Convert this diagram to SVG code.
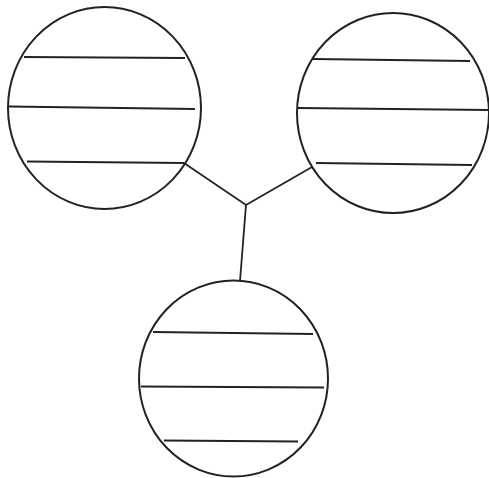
<svg xmlns="http://www.w3.org/2000/svg" width="489" height="478" viewBox="0 0 489 478">
<style>
.c{fill:none;stroke:#222;stroke-width:2}
.l{stroke:#222;stroke-width:1.8;fill:none}
</style>
<rect width="489" height="478" fill="#fff"/>
<g id="connectors">
<polyline class="l" points="184,163 246,205 312,167"/>
<line class="l" x1="246" y1="205" x2="240" y2="281"/>
</g>
<g id="node-left">
<ellipse class="c" cx="104.5" cy="108" rx="96.5" ry="101"/>
<line class="l" x1="24" y1="57" x2="185" y2="58"/>
<line class="l" x1="9" y1="106.5" x2="195" y2="109"/>
<line class="l" x1="27" y1="161.5" x2="184" y2="163"/>
</g>
<g id="node-right">
<ellipse class="c" cx="393" cy="113" rx="96" ry="100"/>
<line class="l" x1="313" y1="59" x2="470" y2="61"/>
<line class="l" x1="298" y1="108" x2="489" y2="110"/>
<line class="l" x1="316" y1="163" x2="472" y2="165"/>
</g>
<g id="node-bottom">
<ellipse class="c" cx="233.5" cy="378.5" rx="94.5" ry="98"/>
<line class="l" x1="153" y1="332" x2="313" y2="334"/>
<line class="l" x1="141" y1="386.5" x2="324" y2="387.5"/>
<line class="l" x1="164" y1="440.5" x2="298" y2="441.5"/>
</g>
</svg>
